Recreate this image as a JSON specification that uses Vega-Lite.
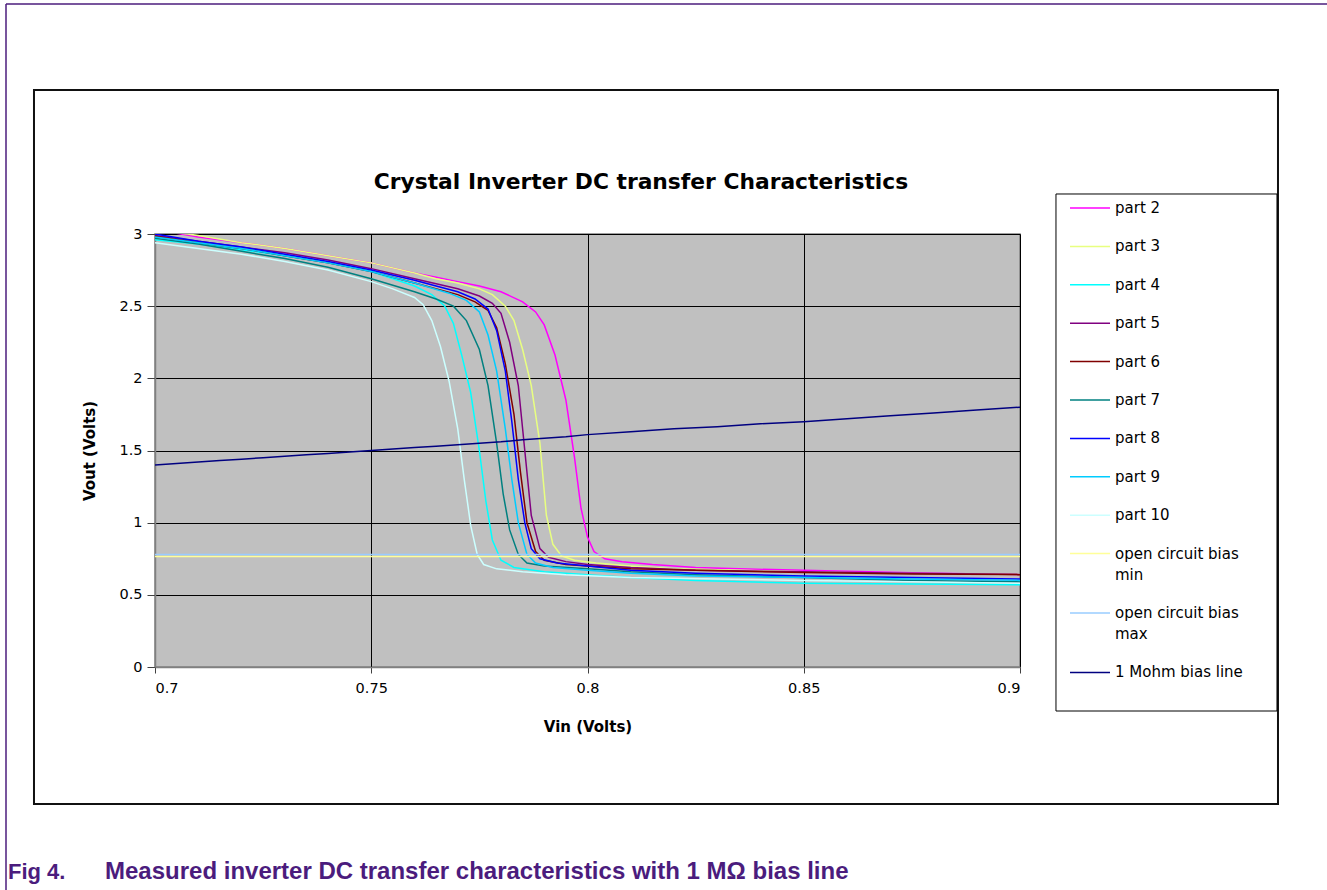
{
  "$schema": "https://vega.github.io/schema/vega-lite/v6.json",
  "autosize": {"type": "none"},
  "width": 865,
  "height": 433,
  "padding": {"left": 155, "top": 234, "right": 307, "bottom": 223},
  "background": "white",
  "config": {
    "view": {"fill": "#C0C0C0", "stroke": "#808080", "strokeWidth": 1.5},
    "axis": {
      "grid": true,
      "gridColor": "black",
      "gridOpacity": 1,
      "gridWidth": 1,
      "domainColor": "#808080",
      "domainWidth": 1.5,
      "tickColor": "#404040",
      "labelFont": "DejaVu Sans",
      "labelFontSize": 14.5,
      "labelColor": "black",
      "titleFont": "DejaVu Sans",
      "titleFontWeight": "bold",
      "titleFontSize": 15,
      "titleColor": "black"
    }
  },
  "datasets": {
    "curves": [
      {"series": "part 2", "vin": 0.700, "vout": 3.03},
      {"series": "part 2", "vin": 0.710, "vout": 2.98},
      {"series": "part 2", "vin": 0.720, "vout": 2.94},
      {"series": "part 2", "vin": 0.730, "vout": 2.90},
      {"series": "part 2", "vin": 0.740, "vout": 2.85},
      {"series": "part 2", "vin": 0.750, "vout": 2.80},
      {"series": "part 2", "vin": 0.760, "vout": 2.73},
      {"series": "part 2", "vin": 0.765, "vout": 2.70},
      {"series": "part 2", "vin": 0.770, "vout": 2.67},
      {"series": "part 2", "vin": 0.775, "vout": 2.64},
      {"series": "part 2", "vin": 0.780, "vout": 2.60},
      {"series": "part 2", "vin": 0.785, "vout": 2.53},
      {"series": "part 2", "vin": 0.788, "vout": 2.46},
      {"series": "part 2", "vin": 0.790, "vout": 2.37},
      {"series": "part 2", "vin": 0.7925, "vout": 2.16},
      {"series": "part 2", "vin": 0.795, "vout": 1.85},
      {"series": "part 2", "vin": 0.797, "vout": 1.45},
      {"series": "part 2", "vin": 0.7985, "vout": 1.10},
      {"series": "part 2", "vin": 0.800, "vout": 0.90},
      {"series": "part 2", "vin": 0.8015, "vout": 0.80},
      {"series": "part 2", "vin": 0.804, "vout": 0.75},
      {"series": "part 2", "vin": 0.808, "vout": 0.73},
      {"series": "part 2", "vin": 0.815, "vout": 0.71},
      {"series": "part 2", "vin": 0.825, "vout": 0.69},
      {"series": "part 2", "vin": 0.835, "vout": 0.68},
      {"series": "part 2", "vin": 0.850, "vout": 0.67},
      {"series": "part 2", "vin": 0.865, "vout": 0.66},
      {"series": "part 2", "vin": 0.880, "vout": 0.65},
      {"series": "part 2", "vin": 0.900, "vout": 0.64},

      {"series": "part 3", "vin": 0.700, "vout": 3.03},
      {"series": "part 3", "vin": 0.710, "vout": 2.99},
      {"series": "part 3", "vin": 0.720, "vout": 2.94},
      {"series": "part 3", "vin": 0.730, "vout": 2.90},
      {"series": "part 3", "vin": 0.740, "vout": 2.85},
      {"series": "part 3", "vin": 0.750, "vout": 2.80},
      {"series": "part 3", "vin": 0.760, "vout": 2.73},
      {"series": "part 3", "vin": 0.765, "vout": 2.69},
      {"series": "part 3", "vin": 0.770, "vout": 2.66},
      {"series": "part 3", "vin": 0.775, "vout": 2.62},
      {"series": "part 3", "vin": 0.778, "vout": 2.58},
      {"series": "part 3", "vin": 0.781, "vout": 2.50},
      {"series": "part 3", "vin": 0.783, "vout": 2.40},
      {"series": "part 3", "vin": 0.785, "vout": 2.20},
      {"series": "part 3", "vin": 0.787, "vout": 1.95},
      {"series": "part 3", "vin": 0.789, "vout": 1.55},
      {"series": "part 3", "vin": 0.7905, "vout": 1.05},
      {"series": "part 3", "vin": 0.792, "vout": 0.85},
      {"series": "part 3", "vin": 0.794, "vout": 0.77},
      {"series": "part 3", "vin": 0.797, "vout": 0.74},
      {"series": "part 3", "vin": 0.802, "vout": 0.72},
      {"series": "part 3", "vin": 0.810, "vout": 0.70},
      {"series": "part 3", "vin": 0.820, "vout": 0.68},
      {"series": "part 3", "vin": 0.835, "vout": 0.67},
      {"series": "part 3", "vin": 0.850, "vout": 0.66},
      {"series": "part 3", "vin": 0.870, "vout": 0.65},
      {"series": "part 3", "vin": 0.900, "vout": 0.64},

      {"series": "part 4", "vin": 0.700, "vout": 2.96},
      {"series": "part 4", "vin": 0.710, "vout": 2.93},
      {"series": "part 4", "vin": 0.720, "vout": 2.89},
      {"series": "part 4", "vin": 0.730, "vout": 2.85},
      {"series": "part 4", "vin": 0.740, "vout": 2.80},
      {"series": "part 4", "vin": 0.750, "vout": 2.74},
      {"series": "part 4", "vin": 0.760, "vout": 2.64},
      {"series": "part 4", "vin": 0.764, "vout": 2.58},
      {"series": "part 4", "vin": 0.767, "vout": 2.50},
      {"series": "part 4", "vin": 0.769, "vout": 2.38},
      {"series": "part 4", "vin": 0.771, "vout": 2.15},
      {"series": "part 4", "vin": 0.773, "vout": 1.90},
      {"series": "part 4", "vin": 0.775, "vout": 1.50},
      {"series": "part 4", "vin": 0.7765, "vout": 1.15},
      {"series": "part 4", "vin": 0.778, "vout": 0.88},
      {"series": "part 4", "vin": 0.780, "vout": 0.74},
      {"series": "part 4", "vin": 0.783, "vout": 0.69},
      {"series": "part 4", "vin": 0.790, "vout": 0.66},
      {"series": "part 4", "vin": 0.800, "vout": 0.64},
      {"series": "part 4", "vin": 0.810, "vout": 0.62},
      {"series": "part 4", "vin": 0.825, "vout": 0.60},
      {"series": "part 4", "vin": 0.850, "vout": 0.58},
      {"series": "part 4", "vin": 0.875, "vout": 0.575},
      {"series": "part 4", "vin": 0.900, "vout": 0.57},

      {"series": "part 5", "vin": 0.700, "vout": 2.99},
      {"series": "part 5", "vin": 0.710, "vout": 2.95},
      {"series": "part 5", "vin": 0.720, "vout": 2.91},
      {"series": "part 5", "vin": 0.730, "vout": 2.87},
      {"series": "part 5", "vin": 0.740, "vout": 2.82},
      {"series": "part 5", "vin": 0.750, "vout": 2.76},
      {"series": "part 5", "vin": 0.760, "vout": 2.69},
      {"series": "part 5", "vin": 0.770, "vout": 2.62},
      {"series": "part 5", "vin": 0.775, "vout": 2.57},
      {"series": "part 5", "vin": 0.778, "vout": 2.52},
      {"series": "part 5", "vin": 0.780, "vout": 2.45},
      {"series": "part 5", "vin": 0.782, "vout": 2.25},
      {"series": "part 5", "vin": 0.784, "vout": 1.95},
      {"series": "part 5", "vin": 0.7855, "vout": 1.50},
      {"series": "part 5", "vin": 0.787, "vout": 1.05},
      {"series": "part 5", "vin": 0.789, "vout": 0.82},
      {"series": "part 5", "vin": 0.791, "vout": 0.76},
      {"series": "part 5", "vin": 0.795, "vout": 0.73},
      {"series": "part 5", "vin": 0.800, "vout": 0.71},
      {"series": "part 5", "vin": 0.810, "vout": 0.69},
      {"series": "part 5", "vin": 0.825, "vout": 0.67},
      {"series": "part 5", "vin": 0.850, "vout": 0.66},
      {"series": "part 5", "vin": 0.875, "vout": 0.65},
      {"series": "part 5", "vin": 0.900, "vout": 0.64},

      {"series": "part 6", "vin": 0.700, "vout": 2.985},
      {"series": "part 6", "vin": 0.710, "vout": 2.94},
      {"series": "part 6", "vin": 0.720, "vout": 2.90},
      {"series": "part 6", "vin": 0.730, "vout": 2.85},
      {"series": "part 6", "vin": 0.740, "vout": 2.80},
      {"series": "part 6", "vin": 0.750, "vout": 2.74},
      {"series": "part 6", "vin": 0.760, "vout": 2.66},
      {"series": "part 6", "vin": 0.770, "vout": 2.58},
      {"series": "part 6", "vin": 0.774, "vout": 2.53},
      {"series": "part 6", "vin": 0.777, "vout": 2.47},
      {"series": "part 6", "vin": 0.779, "vout": 2.35},
      {"series": "part 6", "vin": 0.781, "vout": 2.10},
      {"series": "part 6", "vin": 0.783, "vout": 1.75},
      {"series": "part 6", "vin": 0.7845, "vout": 1.35},
      {"series": "part 6", "vin": 0.786, "vout": 1.00},
      {"series": "part 6", "vin": 0.788, "vout": 0.80},
      {"series": "part 6", "vin": 0.790, "vout": 0.74},
      {"series": "part 6", "vin": 0.795, "vout": 0.71},
      {"series": "part 6", "vin": 0.800, "vout": 0.70},
      {"series": "part 6", "vin": 0.810, "vout": 0.68},
      {"series": "part 6", "vin": 0.825, "vout": 0.67},
      {"series": "part 6", "vin": 0.850, "vout": 0.655},
      {"series": "part 6", "vin": 0.875, "vout": 0.645},
      {"series": "part 6", "vin": 0.900, "vout": 0.64},

      {"series": "part 7", "vin": 0.700, "vout": 2.97},
      {"series": "part 7", "vin": 0.710, "vout": 2.93},
      {"series": "part 7", "vin": 0.720, "vout": 2.88},
      {"series": "part 7", "vin": 0.730, "vout": 2.83},
      {"series": "part 7", "vin": 0.740, "vout": 2.77},
      {"series": "part 7", "vin": 0.750, "vout": 2.69},
      {"series": "part 7", "vin": 0.760, "vout": 2.60},
      {"series": "part 7", "vin": 0.765, "vout": 2.55},
      {"series": "part 7", "vin": 0.769, "vout": 2.50},
      {"series": "part 7", "vin": 0.772, "vout": 2.40},
      {"series": "part 7", "vin": 0.775, "vout": 2.20},
      {"series": "part 7", "vin": 0.777, "vout": 1.95},
      {"series": "part 7", "vin": 0.779, "vout": 1.55},
      {"series": "part 7", "vin": 0.7805, "vout": 1.20},
      {"series": "part 7", "vin": 0.782, "vout": 0.95},
      {"series": "part 7", "vin": 0.784, "vout": 0.78},
      {"series": "part 7", "vin": 0.786, "vout": 0.72},
      {"series": "part 7", "vin": 0.790, "vout": 0.70},
      {"series": "part 7", "vin": 0.800, "vout": 0.68},
      {"series": "part 7", "vin": 0.810, "vout": 0.66},
      {"series": "part 7", "vin": 0.825, "vout": 0.64},
      {"series": "part 7", "vin": 0.850, "vout": 0.62},
      {"series": "part 7", "vin": 0.875, "vout": 0.60},
      {"series": "part 7", "vin": 0.900, "vout": 0.59},

      {"series": "part 8", "vin": 0.700, "vout": 3.00},
      {"series": "part 8", "vin": 0.710, "vout": 2.95},
      {"series": "part 8", "vin": 0.720, "vout": 2.91},
      {"series": "part 8", "vin": 0.730, "vout": 2.86},
      {"series": "part 8", "vin": 0.740, "vout": 2.81},
      {"series": "part 8", "vin": 0.750, "vout": 2.75},
      {"series": "part 8", "vin": 0.760, "vout": 2.68},
      {"series": "part 8", "vin": 0.770, "vout": 2.60},
      {"series": "part 8", "vin": 0.774, "vout": 2.55},
      {"series": "part 8", "vin": 0.777, "vout": 2.48},
      {"series": "part 8", "vin": 0.779, "vout": 2.33},
      {"series": "part 8", "vin": 0.781, "vout": 2.05},
      {"series": "part 8", "vin": 0.7825, "vout": 1.70},
      {"series": "part 8", "vin": 0.784, "vout": 1.30},
      {"series": "part 8", "vin": 0.7855, "vout": 1.00},
      {"series": "part 8", "vin": 0.787, "vout": 0.82},
      {"series": "part 8", "vin": 0.789, "vout": 0.75},
      {"series": "part 8", "vin": 0.793, "vout": 0.72},
      {"series": "part 8", "vin": 0.800, "vout": 0.70},
      {"series": "part 8", "vin": 0.810, "vout": 0.67},
      {"series": "part 8", "vin": 0.825, "vout": 0.65},
      {"series": "part 8", "vin": 0.850, "vout": 0.63},
      {"series": "part 8", "vin": 0.875, "vout": 0.62},
      {"series": "part 8", "vin": 0.900, "vout": 0.61},

      {"series": "part 9", "vin": 0.700, "vout": 2.98},
      {"series": "part 9", "vin": 0.710, "vout": 2.94},
      {"series": "part 9", "vin": 0.720, "vout": 2.90},
      {"series": "part 9", "vin": 0.730, "vout": 2.85},
      {"series": "part 9", "vin": 0.740, "vout": 2.80},
      {"series": "part 9", "vin": 0.750, "vout": 2.74},
      {"series": "part 9", "vin": 0.760, "vout": 2.66},
      {"series": "part 9", "vin": 0.768, "vout": 2.59},
      {"series": "part 9", "vin": 0.772, "vout": 2.54},
      {"series": "part 9", "vin": 0.775, "vout": 2.46},
      {"series": "part 9", "vin": 0.777, "vout": 2.30},
      {"series": "part 9", "vin": 0.779, "vout": 2.05},
      {"series": "part 9", "vin": 0.781, "vout": 1.65},
      {"series": "part 9", "vin": 0.7825, "vout": 1.30},
      {"series": "part 9", "vin": 0.784, "vout": 1.00},
      {"series": "part 9", "vin": 0.786, "vout": 0.78},
      {"series": "part 9", "vin": 0.788, "vout": 0.72},
      {"series": "part 9", "vin": 0.792, "vout": 0.69},
      {"series": "part 9", "vin": 0.800, "vout": 0.67},
      {"series": "part 9", "vin": 0.810, "vout": 0.65},
      {"series": "part 9", "vin": 0.825, "vout": 0.63},
      {"series": "part 9", "vin": 0.850, "vout": 0.62},
      {"series": "part 9", "vin": 0.875, "vout": 0.61},
      {"series": "part 9", "vin": 0.900, "vout": 0.60},

      {"series": "part 10", "vin": 0.700, "vout": 2.94},
      {"series": "part 10", "vin": 0.710, "vout": 2.90},
      {"series": "part 10", "vin": 0.720, "vout": 2.86},
      {"series": "part 10", "vin": 0.730, "vout": 2.81},
      {"series": "part 10", "vin": 0.740, "vout": 2.75},
      {"series": "part 10", "vin": 0.750, "vout": 2.67},
      {"series": "part 10", "vin": 0.755, "vout": 2.62},
      {"series": "part 10", "vin": 0.760, "vout": 2.56},
      {"series": "part 10", "vin": 0.762, "vout": 2.51},
      {"series": "part 10", "vin": 0.764, "vout": 2.40},
      {"series": "part 10", "vin": 0.766, "vout": 2.22},
      {"series": "part 10", "vin": 0.768, "vout": 1.98},
      {"series": "part 10", "vin": 0.770, "vout": 1.65},
      {"series": "part 10", "vin": 0.7715, "vout": 1.30},
      {"series": "part 10", "vin": 0.773, "vout": 0.98},
      {"series": "part 10", "vin": 0.7745, "vout": 0.78},
      {"series": "part 10", "vin": 0.776, "vout": 0.71},
      {"series": "part 10", "vin": 0.779, "vout": 0.68},
      {"series": "part 10", "vin": 0.785, "vout": 0.66},
      {"series": "part 10", "vin": 0.795, "vout": 0.64},
      {"series": "part 10", "vin": 0.810, "vout": 0.62},
      {"series": "part 10", "vin": 0.830, "vout": 0.61},
      {"series": "part 10", "vin": 0.850, "vout": 0.60},
      {"series": "part 10", "vin": 0.875, "vout": 0.59},
      {"series": "part 10", "vin": 0.900, "vout": 0.58},

      {"series": "open circuit bias min", "vin": 0.700, "vout": 0.765},
      {"series": "open circuit bias min", "vin": 0.900, "vout": 0.765},
      {"series": "open circuit bias max", "vin": 0.700, "vout": 0.78},
      {"series": "open circuit bias max", "vin": 0.900, "vout": 0.78},

      {"series": "1 Mohm bias line", "vin": 0.700, "vout": 1.40},
      {"series": "1 Mohm bias line", "vin": 0.705, "vout": 1.41},
      {"series": "1 Mohm bias line", "vin": 0.710, "vout": 1.42},
      {"series": "1 Mohm bias line", "vin": 0.715, "vout": 1.43},
      {"series": "1 Mohm bias line", "vin": 0.720, "vout": 1.44},
      {"series": "1 Mohm bias line", "vin": 0.725, "vout": 1.45},
      {"series": "1 Mohm bias line", "vin": 0.730, "vout": 1.46},
      {"series": "1 Mohm bias line", "vin": 0.735, "vout": 1.47},
      {"series": "1 Mohm bias line", "vin": 0.740, "vout": 1.48},
      {"series": "1 Mohm bias line", "vin": 0.745, "vout": 1.49},
      {"series": "1 Mohm bias line", "vin": 0.750, "vout": 1.50},
      {"series": "1 Mohm bias line", "vin": 0.755, "vout": 1.51},
      {"series": "1 Mohm bias line", "vin": 0.760, "vout": 1.52},
      {"series": "1 Mohm bias line", "vin": 0.765, "vout": 1.53},
      {"series": "1 Mohm bias line", "vin": 0.770, "vout": 1.54},
      {"series": "1 Mohm bias line", "vin": 0.775, "vout": 1.55},
      {"series": "1 Mohm bias line", "vin": 0.780, "vout": 1.56},
      {"series": "1 Mohm bias line", "vin": 0.785, "vout": 1.575},
      {"series": "1 Mohm bias line", "vin": 0.790, "vout": 1.585},
      {"series": "1 Mohm bias line", "vin": 0.795, "vout": 1.595},
      {"series": "1 Mohm bias line", "vin": 0.800, "vout": 1.61},
      {"series": "1 Mohm bias line", "vin": 0.810, "vout": 1.63},
      {"series": "1 Mohm bias line", "vin": 0.820, "vout": 1.65},
      {"series": "1 Mohm bias line", "vin": 0.830, "vout": 1.665},
      {"series": "1 Mohm bias line", "vin": 0.840, "vout": 1.685},
      {"series": "1 Mohm bias line", "vin": 0.850, "vout": 1.70},
      {"series": "1 Mohm bias line", "vin": 0.860, "vout": 1.72},
      {"series": "1 Mohm bias line", "vin": 0.870, "vout": 1.74},
      {"series": "1 Mohm bias line", "vin": 0.880, "vout": 1.76},
      {"series": "1 Mohm bias line", "vin": 0.890, "vout": 1.78},
      {"series": "1 Mohm bias line", "vin": 0.900, "vout": 1.80}
    ]
  },
  "layer": [
    {
      "data": {"name": "curves"},
      "mark": {"type": "line", "clip": true, "strokeWidth": 1.5},
      "encoding": {
        "x": {
          "field": "vin", "type": "quantitative",
          "scale": {"domain": [0.7, 0.9], "zero": false, "nice": false},
          "axis": {
            "title": "Vin (Volts)",
            "values": [0.7, 0.75, 0.8, 0.85, 0.9],
            "format": "~g",
            "tickSize": 6,
            "labelPadding": 8,
            "titlePadding": 25
          }
        },
        "y": {
          "field": "vout", "type": "quantitative",
          "scale": {"domain": [0, 3], "zero": false, "nice": false},
          "axis": {
            "title": "Vout (Volts)",
            "values": [0, 0.5, 1, 1.5, 2, 2.5, 3],
            "format": "~g",
            "tickSize": 8,
            "labelPadding": 5,
            "titlePadding": 21
          }
        },
        "color": {
          "field": "series", "type": "nominal",
          "scale": {
            "domain": ["part 2", "part 3", "part 4", "part 5", "part 6", "part 7", "part 8", "part 9", "part 10", "open circuit bias min", "open circuit bias max", "1 Mohm bias line"],
            "range": ["#FF00FF", "#E8FF80", "#00FFFF", "#800080", "#800000", "#008080", "#0000FF", "#00CCFF", "#CCFFFF", "#FFFF99", "#99CCFF", "#000080"]
          },
          "legend": {
            "title": null,
            "orient": "none",
            "legendX": 901,
            "legendY": -37,
            "padding": 0,
            "symbolType": "M-2,0H2",
            "symbolSize": 400,
            "symbolStrokeWidth": 1.5,
            "symbolOffset": 23,
            "labelOffset": 14,
            "rowPadding": 19.4,
            "labelFont": "DejaVu Sans",
            "labelFontSize": 15,
            "labelColor": "black",
            "labelLimit": 300,
            "labelExpr": "datum.label == 'open circuit bias min' ? ['open circuit bias', 'min'] : datum.label == 'open circuit bias max' ? ['open circuit bias', 'max'] : datum.label",
            "encode": {
              "labels": {
                "update": {
                  "baseline": {"value": "top"},
                  "dy": {"value": -7},
                  "lineHeight": {"value": 21}
                }
              }
            }
          }
        }
      }
    },
    {
      "data": {"values": [{}]},
      "mark": {"type": "rect", "fill": null, "stroke": "#111111", "strokeWidth": 2},
      "encoding": {
        "x": {"datum": 0.67202, "type": "quantitative"},
        "x2": {"datum": 0.95965},
        "y": {"datum": 3.99769, "type": "quantitative"},
        "y2": {"datum": -0.94919}
      }
    },
    {
      "data": {"values": [{}]},
      "mark": {"type": "rect", "fill": null, "stroke": "black", "strokeWidth": 1},
      "encoding": {
        "x": {"datum": 0.90832, "type": "quantitative"},
        "x2": {"datum": 0.95942},
        "y": {"datum": 3.27714, "type": "quantitative"},
        "y2": {"datum": -0.30485}
      }
    },
    {
      "data": {"values": [{}]},
      "mark": {"type": "rule", "color": "#4B1C7D", "strokeWidth": 1.5},
      "encoding": {
        "x": {"datum": 0.66555, "type": "quantitative"},
        "x2": {"datum": 0.972},
        "y": {"datum": 4.5935, "type": "quantitative"}
      }
    },
    {
      "data": {"values": [{}]},
      "mark": {"type": "rule", "color": "#4B1C7D", "strokeWidth": 1.5},
      "encoding": {
        "x": {"datum": 0.66555, "type": "quantitative"},
        "y": {"datum": 4.5935, "type": "quantitative"},
        "y2": {"datum": -1.56}
      }
    },
    {
      "data": {"values": [{}]},
      "mark": {"type": "text", "align": "center", "baseline": "middle", "font": "DejaVu Sans", "fontSize": 21.8, "fontWeight": "bold", "color": "black"},
      "encoding": {
        "x": {"datum": 0.81237, "type": "quantitative"},
        "y": {"datum": 3.36028, "type": "quantitative"},
        "text": {"value": "Crystal Inverter DC transfer Characteristics"}
      }
    },
    {
      "data": {"values": [{}]},
      "mark": {"type": "text", "align": "left", "baseline": "middle", "font": "Liberation Sans", "fontSize": 22, "fontWeight": "bold", "color": "#4B1C7D"},
      "encoding": {
        "x": {"datum": 0.66601, "type": "quantitative"},
        "y": {"datum": -1.42033, "type": "quantitative"},
        "text": {"value": "Fig 4."}
      }
    },
    {
      "data": {"values": [{}]},
      "mark": {"type": "text", "align": "left", "baseline": "middle", "font": "Liberation Sans", "fontSize": 24, "fontWeight": "bold", "color": "#4B1C7D"},
      "encoding": {
        "x": {"datum": 0.68844, "type": "quantitative"},
        "y": {"datum": -1.42033, "type": "quantitative"},
        "text": {"value": "Measured inverter DC transfer characteristics with 1 MΩ bias line"}
      }
    }
  ]
}
